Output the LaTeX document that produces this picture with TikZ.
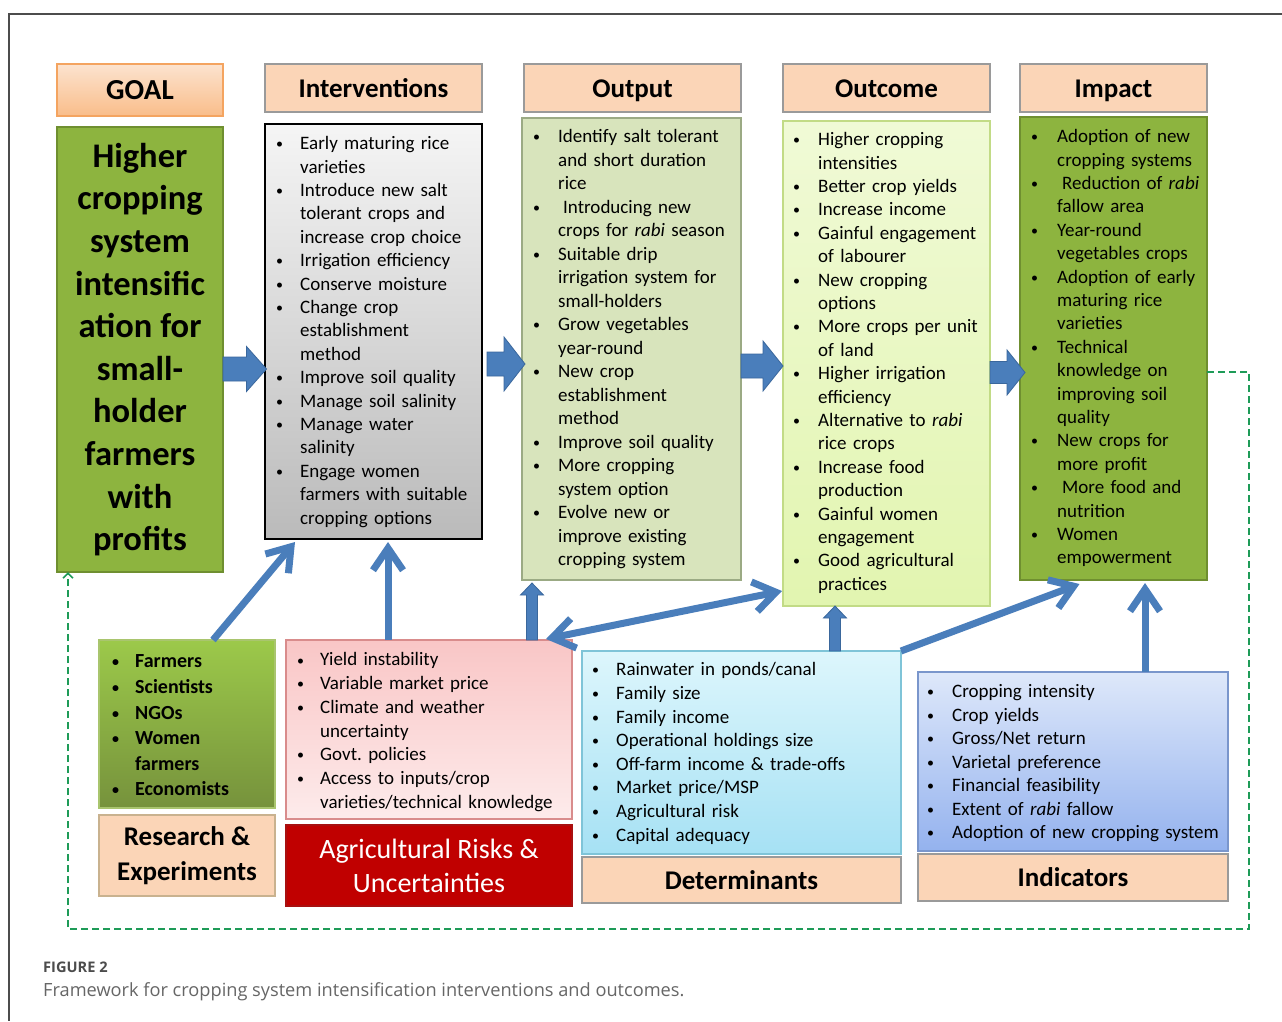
\documentclass[tikz,border=0pt]{standalone}
\usepackage{fontspec}
\setmainfont{Carlito}
\newfontfamily\capfont{Open Sans}
\usepackage{enumitem}
\usetikzlibrary{arrows.meta,calc}
\frenchspacing

\definecolor{peach}{HTML}{FBD5B7}
\definecolor{hdborder}{HTML}{9A9A9A}
\definecolor{goalgreen}{HTML}{8DB43F}
\definecolor{goaledge}{HTML}{6F8F30}
\definecolor{outfill}{HTML}{D8E4BC}
\definecolor{outedge}{HTML}{9BAA84}
\definecolor{ocmtop}{HTML}{F0FAD6}
\definecolor{ocmbot}{HTML}{E2F5B0}
\definecolor{ocmedge}{HTML}{C2DB86}
\definecolor{arrowblue}{HTML}{4A7EBB}
\definecolor{arrowedge}{HTML}{3A679C}
\definecolor{fbgreen}{HTML}{1E9B58}
\definecolor{riskred}{HTML}{C00000}
\definecolor{riskedge}{HTML}{A81010}
\definecolor{restop}{HTML}{9CC94A}
\definecolor{resbot}{HTML}{76923C}
\definecolor{resedge}{HTML}{A9C56E}
\definecolor{labedge}{HTML}{C9B28F}
\definecolor{pinktop}{HTML}{F9C6C6}
\definecolor{pinkbot}{HTML}{FDEBEB}
\definecolor{pinkedge}{HTML}{D98C8C}
\definecolor{cyantop}{HTML}{DDF6FC}
\definecolor{cyanbot}{HTML}{A6E1F4}
\definecolor{cyanedge}{HTML}{7FC4D8}
\definecolor{bluetop}{HTML}{DEE8FA}
\definecolor{bluebot}{HTML}{94B2EE}
\definecolor{blueedge}{HTML}{7A96CC}
\definecolor{goaltop}{HTML}{FCE3CF}
\definecolor{goalbot}{HTML}{F9BD8A}
\definecolor{goalline}{HTML}{F4A460}

% small bullet, raised to sit at mid x-height
\newcommand\smallbullet{\raisebox{0.9pt}{\fontsize{14}{14}\selectfont\textbullet}}
% bullet list with the label flush left
\newenvironment{bl}[1]{\begin{itemize}[leftmargin=#1,labelwidth=#1,labelsep=0pt,align=left,
  itemsep=0pt,topsep=0pt,parsep=0pt,partopsep=0pt,label=\smallbullet]}{\end{itemize}}

% horizontal block arrow: start, length, shaft half, head half, head length
\newcommand\hblock[5]{\draw[blockarrow] (#1) ++(0,-#3) -- ++({#2-#5},0) -- ++(0,{#3-#4})
  -- ++(#5,#4) -- ++(-#5,#4) -- ++(0,{#3-#4}) -- ++({#5-#2},0) -- cycle;}
% upward block arrow: start, length, shaft half, head half, head length
\newcommand\vblock[5]{\draw[blockarrow] (#1) ++(-#3,0) -- ++(0,{#5-#2}) -- ++({#3-#4},0)
  -- ++(#4,-#5) -- ++(#4,#5) -- ++({#3-#4},0) -- ++(0,{#2-#5}) -- cycle;}

\tikzset{
  box/.style={anchor=north west, inner sep=0pt, outer sep=0pt, line width=1.2pt, align=center},
  headbox/.style={box, draw=hdborder, fill=peach, font=\fontsize{27}{32}\selectfont\bfseries,
    text height=18pt, text depth=0pt},
  lst/.style={anchor=north west, inner sep=0pt, text width=300pt},
  blockarrow/.style={fill=arrowblue, draw=arrowedge, line width=0.8pt},
  tharrow/.style={draw=arrowblue, line width=7pt, -{Straight Barb[length=22pt,width=30pt]}},
  tharrowboth/.style={draw=arrowblue, line width=7pt, {Straight Barb[length=22pt,width=30pt]}-{Straight Barb[length=22pt,width=30pt]}},
  fb/.style={draw=fbgreen, line width=2.2pt, dash pattern=on 7pt off 4pt, -{Straight Barb[length=5pt,width=10pt,line width=1.6pt]}},
}

\begin{document}
\begin{tikzpicture}[x=1pt,y=-1pt]
\useasboundingbox (0,0) rectangle (1282,1021);
\fill[white] (0,0) rectangle (1282,1021);

% outer frame
\draw[line width=1.5pt, draw=black!70] (1282,14) -- (9,14) -- (9,1021);

% ---------- column headers ----------
\node[box, draw=goalline, top color=goaltop, bottom color=goalbot,
  minimum width=166pt, minimum height=52pt, font=\fontsize{29}{34}\selectfont\bfseries,
  text height=19pt, text depth=0pt]
  (goalhead) at (57,64) {GOAL};
\node[headbox, minimum width=217pt, minimum height=48pt] (inthead) at (265,64) {Interventions};
\node[headbox, minimum width=217pt, minimum height=48pt] (outhead) at (524,64) {Output};
\node[headbox, minimum width=207pt, minimum height=48pt] (ocmhead) at (783,64) {Outcome};
\node[headbox, minimum width=187pt, minimum height=48pt] (imphead) at (1020,64) {Impact};

% ---------- column bodies ----------
\node[box, draw=goaledge, fill=goalgreen, minimum width=166pt, minimum height=445pt,
  font=\fontsize{34.5}{42.6}\selectfont\bfseries] (goalbody) at (57,127)
  {Higher\\cropping\\system\\intensific\\ation for\\small-\\holder\\farmers\\with\\profits};
\node[box, draw=black, line width=1.5pt, top color=black!4, bottom color=black!27,
  minimum width=217pt, minimum height=415pt] (intbody) at (265,124) {};
\node[box, draw=outedge, fill=outfill, minimum width=219pt, minimum height=462pt] (outbody) at (522,118) {};
\node[box, draw=ocmedge, top color=ocmtop, bottom color=ocmbot, minimum width=207pt, minimum height=485pt] (ocmbody) at (783,121) {};
\node[box, draw=goaledge, fill=goalgreen, minimum width=187pt, minimum height=463pt] (impbody) at (1020,117) {};

% ---------- lower boxes ----------
\node[box, draw=resedge, top color=restop, bottom color=resbot,
  minimum width=176pt, minimum height=168pt] (reslist) at (99,640) {};
\node[box, draw=labedge, fill=peach, minimum width=176pt, minimum height=81pt,
  font=\fontsize{27}{35}\selectfont\bfseries] (reslab) at (99,815) {Research \&\\Experiments};
\node[box, draw=pinkedge, top color=pinktop, bottom color=pinkbot,
  minimum width=286pt, minimum height=179pt] (risklist) at (286,640) {};
\node[box, draw=riskedge, fill=riskred, text=white, minimum width=286pt, minimum height=81pt,
  font=\fontsize{28}{34}\selectfont] (risklab) at (286,825) {Agricultural Risks \&\\Uncertainties};
\node[box, draw=cyanedge, top color=cyantop, bottom color=cyanbot,
  minimum width=319pt, minimum height=203pt] (detlist) at (582,651) {};
\node[box, draw=hdborder, fill=peach, minimum width=319pt, minimum height=46pt,
  font=\fontsize{27}{32}\selectfont\bfseries] (detlab) at (582,857) {Determinants};
\node[box, draw=blueedge, top color=bluetop, bottom color=bluebot,
  minimum width=310pt, minimum height=179pt] (indlist) at (918,672) {};
\node[box, draw=hdborder, fill=peach, minimum width=310pt, minimum height=47pt,
  font=\fontsize{27}{32}\selectfont\bfseries] (indlab) at (918,854) {Indicators};

% ---------- list texts ----------
\node[lst, font=\fontsize{19}{23.4}\selectfont] (inttxt) at (276,126) {\begin{bl}{24pt}
\item Early maturing rice\\varieties
\item Introduce new salt\\tolerant crops and\\increase crop choice
\item Irrigation efficiency
\item Conserve moisture
\item Change crop\\establishment\\method
\item Improve soil quality
\item Manage soil salinity
\item Manage water\\salinity
\item Engage women\\farmers with suitable\\cropping options
\end{bl}};

\node[lst, font=\fontsize{19}{23.5}\selectfont] (outtxt) at (533,119) {\begin{bl}{25pt}
\item Identify salt tolerant\\and short duration\\rice
\item \hspace{5pt}Introducing new\\crops for \textit{rabi} season
\item Suitable drip\\irrigation system for\\small-holders
\item Grow vegetables\\year-round
\item New crop\\establishment\\method
\item Improve soil quality
\item More cropping\\system option
\item Evolve new or\\improve existing\\cropping system
\end{bl}};

\node[lst, font=\fontsize{19}{23.4}\selectfont] (ocmtxt) at (793,122) {\begin{bl}{25pt}
\item Higher cropping\\intensities
\item Better crop yields
\item Increase income
\item Gainful engagement\\of labourer
\item New cropping\\options
\item More crops per unit\\of land
\item Higher irrigation\\efficiency
\item Alternative to \textit{rabi}\\rice crops
\item Increase food\\production
\item Gainful women\\engagement
\item Good agricultural\\practices
\end{bl}};

\node[lst, font=\fontsize{19}{23.4}\selectfont] (imptxt) at (1031,119) {\begin{bl}{26pt}
\item Adoption of new\\cropping systems
\item \hspace{5pt}Reduction of \textit{rabi}\\fallow area
\item Year-round\\vegetables crops
\item Adoption of early\\maturing rice\\varieties
\item Technical\\knowledge on\\improving soil\\quality
\item New crops for\\more profit
\item \hspace{5pt}More food and\\nutrition
\item Women\\empowerment
\end{bl}};

\node[lst, font=\fontsize{20}{25.6}\selectfont\bfseries] (restxt) at (112,642) {\begin{bl}{23pt}
\item Farmers
\item Scientists
\item NGOs
\item Women\\farmers
\item Economists
\end{bl}};

\node[lst, font=\fontsize{19}{23.7}\selectfont] (risktxt) at (297,642) {\begin{bl}{23pt}
\item Yield instability
\item Variable market price
\item Climate and weather\\uncertainty
\item Govt. policies
\item Access to inputs/crop\\varieties/technical knowledge
\end{bl}};

\node[lst, font=\fontsize{19}{23.6}\selectfont] (dettxt) at (592,652) {\begin{bl}{24pt}
\item Rainwater in ponds/canal
\item Family size
\item Family income
\item Operational holdings size
\item Off-farm income \& trade-offs
\item Market price/MSP
\item Agricultural risk
\item Capital adequacy
\end{bl}};

\node[lst, font=\fontsize{19}{23.5}\selectfont] (indtxt) at (927,674) {\begin{bl}{25pt}
\item Cropping intensity
\item Crop yields
\item Gross/Net return
\item Varietal preference
\item Financial feasibility
\item Extent of \textit{rabi} fallow
\item Adoption of new cropping system
\end{bl}};

% ---------- block arrows between the columns ----------
\coordinate (a1) at (goalbody.east |- 0,369);
\coordinate (a2) at ($(intbody.east |- 0,364)+(5,0)$);
\coordinate (a3) at (outbody.east |- 0,366);
\coordinate (a4) at (ocmbody.east |- 0,372.5);
\hblock{a1}{43.5}{12}{22.5}{20}
\hblock{a2}{38}{12}{27}{21}
\hblock{a3}{42}{12}{25}{20}
\hblock{a4}{35}{11}{22.5}{18}

% narrow upward block arrows
\coordinate (v1) at ([xshift=103pt]risklist.north);
\coordinate (v2) at ([xshift=93.5pt]detlist.north);
\vblock{v1}{57}{5.5}{11.5}{12}
\vblock{v2}{45}{5.5}{11.5}{12}

% ---------- thick line arrows ----------
\coordinate (t1) at ([yshift=-3pt]intbody.south);
\coordinate (t2) at ([yshift=-3pt]impbody.south);
\coordinate (r2) at ([xshift=-41pt]risklist.north);
\coordinate (i2) at ([xshift=72pt]indlist.north);
\draw[tharrow] ([xshift=26pt]reslist.north) -- ([xshift=-78.5pt,yshift=-3pt]intbody.south);
\draw[tharrow] (r2) -- (r2 |- t1);
\draw[tharrowboth] ([xshift=-26pt,yshift=1pt]risklist.north east) -- ([xshift=-1pt,yshift=15pt]ocmbody.south west);
\draw[tharrow] (detlist.north east) -- ([xshift=-34pt,yshift=-4pt]impbody.south);
\draw[tharrow] (i2) -- (i2 |- t2);

% ---------- dashed feedback loop ----------
\coordinate (fbstart) at ([yshift=-23.5pt]impbody.east);
\coordinate (fbend) at ([xshift=-72pt]goalbody.south);
\draw[fb] (fbstart) -| (1249,929) -| (fbend);

% ---------- caption ----------
\node[anchor=base west, inner sep=0pt, text=black!70, font=\capfont\bfseries\fontsize{14.6}{17}\selectfont]
  (figno) at (43,972) {FIGURE 2};
\node[anchor=base west, inner sep=0pt, text=black!60, font=\capfont\fontsize{18.2}{21}\selectfont]
  (caption) at (43,996) {Framework for cropping system intensification interventions and outcomes.};
\end{tikzpicture}
\end{document}
